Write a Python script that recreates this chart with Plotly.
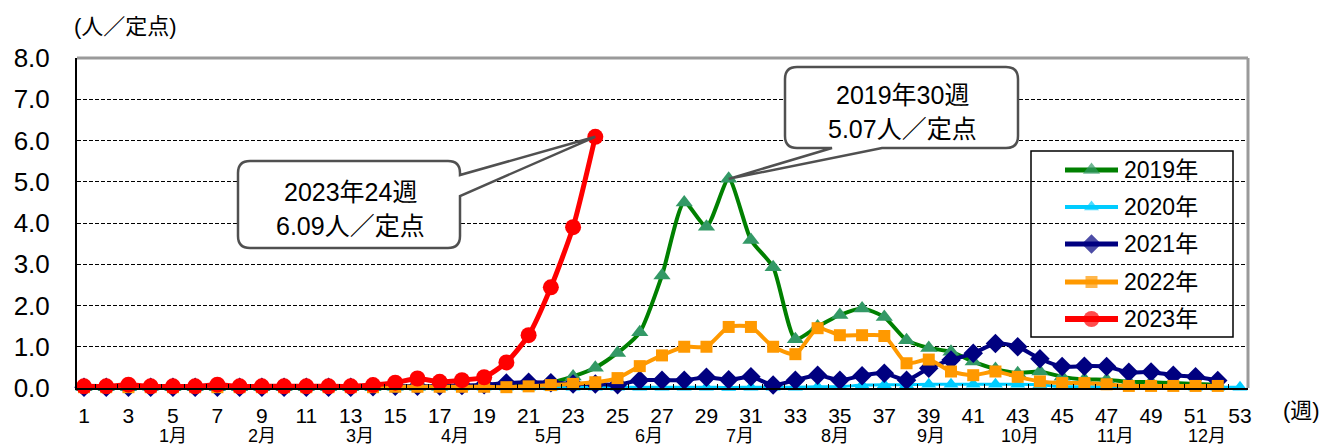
import plotly.graph_objects as go

# ---- weekly reports per sentinel site ----
weeks = list(range(1, 54))

cases_2019 = [0.02, 0.02, 0.02, 0.03, 0.02, 0.02, 0.02, 0.02, 0.02, 0.02,
              0.02, 0.02, 0.02, 0.02, 0.03, 0.03, 0.03, 0.04, 0.05, 0.06,
              0.08, 0.13, 0.28, 0.49, 0.85, 1.35, 2.73, 4.50, 3.91, 5.07,
              3.59, 2.93, 1.18, 1.49, 1.77, 1.93, 1.72, 1.16, 0.97, 0.88,
              0.64, 0.46, 0.36, 0.40, 0.27, 0.21, 0.20, 0.15, 0.14, 0.12,
              0.10, 0.08]
cases_2020 = [0.02, 0.02, 0.02, 0.02, 0.02, 0.02, 0.02, 0.02, 0.02, 0.02,
              0.02, 0.02, 0.02, 0.02, 0.02, 0.02, 0.02, 0.02, 0.02, 0.02,
              0.02, 0.02, 0.02, 0.02, 0.02, 0.02, 0.02, 0.02, 0.02, 0.01,
              0.02, 0.02, 0.02, 0.03, 0.03, 0.07, 0.08, 0.08, 0.09, 0.09,
              0.09, 0.09, 0.09, 0.08, 0.03, 0.03, 0.03, 0.03, 0.03, 0.03,
              0.02, 0.02, 0.02]
cases_2021 = [0.02, 0.02, 0.02, 0.02, 0.02, 0.02, 0.02, 0.02, 0.02, 0.02,
              0.02, 0.02, 0.02, 0.03, 0.04, 0.04, 0.05, 0.06, 0.08, 0.12,
              0.14, 0.13, 0.10, 0.10, 0.08, 0.19, 0.19, 0.19, 0.26, 0.20,
              0.27, 0.07, 0.19, 0.31, 0.19, 0.30, 0.36, 0.19, 0.48, 0.68,
              0.84, 1.08, 1.00, 0.71, 0.52, 0.53, 0.52, 0.38, 0.39, 0.31,
              0.27, 0.18]
cases_2022 = [0.02, 0.02, 0.02, 0.02, 0.02, 0.02, 0.02, 0.02, 0.02, 0.02,
              0.02, 0.02, 0.02, 0.02, 0.03, 0.03, 0.03, 0.03, 0.03, 0.02,
              0.04, 0.07, 0.10, 0.14, 0.24, 0.53, 0.79, 1.00, 1.00, 1.48,
              1.48, 1.00, 0.82, 1.45, 1.28, 1.28, 1.26, 0.60, 0.69, 0.40,
              0.31, 0.40, 0.27, 0.16, 0.12, 0.12, 0.09, 0.05, 0.05, 0.05,
              0.05, 0.05]
cases_2023 = [0.04, 0.04, 0.08, 0.04, 0.04, 0.04, 0.08, 0.04, 0.04, 0.04,
              0.04, 0.04, 0.04, 0.07, 0.13, 0.23, 0.15, 0.19, 0.26, 0.62,
              1.28, 2.44, 3.90, 6.09]

year_labels = ["2019年", "2020年", "2021年", "2022年", "2023年"]
week_ticks = list(range(1, 54, 2))
y_ticks = [0, 1, 2, 3, 4, 5, 6, 7, 8]
month_labels = ["1月", "2月", "3月", "4月", "5月", "6月",
                "7月", "8月", "9月", "10月", "11月", "12月"]
month_label_pos = [5.0, 9.0, 13.4, 17.7, 21.9, 26.4,
                   30.5, 34.8, 39.1, 43.1, 47.4, 51.5]

# ---- canvas geometry ----
W, H = 1323, 448
PL, PR, PT, PB = 77, 1248, 58, 388          # plot area edges (px)
X_LO, X_HI = 0.685, 53.36
Y_LO, Y_HI = 0.0, 8.0

FONT = "Arial, 'Liberation Sans', 'Noto Sans CJK JP', sans-serif"


def paper_x(px):
    return (px - PL) / (PR - PL)


def paper_y(py):
    return (PB - py) / (PB - PT)


def data_x(px):
    return X_LO + (px - PL) / (PR - PL) * (X_HI - X_LO)


def data_y(py):
    return Y_HI - (py - PT) / (PB - PT) * (Y_HI - Y_LO)


styles = [
    dict(line="#008000", marker="#339966", symbol="triangle-up", size=15, width=4),
    dict(line="#00CCFF", marker="#00CCFF", symbol="triangle-up", size=13, width=3),
    dict(line="#000080", marker="#000080", symbol="diamond", size=15, width=4),
    dict(line="#FF9900", marker="#FF9900", symbol="square", size=12, width=4),
    dict(line="#FF0000", marker="#FF0000", symbol="circle", size=16, width=5),
]
series = [
    (weeks[:52], cases_2019),
    (weeks[:53], cases_2020),
    (weeks[:52], cases_2021),
    (weeks[:52], cases_2022),
    (weeks[:24], cases_2023),
]

fig = go.Figure()

for name, (xs, ys), st in zip(year_labels, series, styles):
    fig.add_trace(go.Scatter(
        x=xs, y=ys, name=name, mode="lines+markers",
        line=dict(color=st["line"], width=st["width"], shape="spline", smoothing=0.6),
        marker=dict(color=st["marker"], symbol=st["symbol"], size=st["size"],
                    line=dict(width=0)),
        cliponaxis=False, showlegend=False, hoverinfo="x+y+name",
    ))

# ---- legend box (samples drawn on an overlay axis in 0..1 plot units) ----
leg_rows = [170, 207, 244, 282, 319]
leg_x0, leg_x1 = 1065, 1118
shapes = []
annotations = []
shapes.append(dict(type="rect", xref="paper", yref="paper",
                   x0=paper_x(1031), x1=paper_x(1233),
                   y0=paper_y(337), y1=paper_y(151),
                   line=dict(color="black", width=1.5), fillcolor="white",
                   layer="between"))
for name, st, ry in zip(year_labels, styles, leg_rows):
    fig.add_trace(go.Scatter(
        x=[paper_x(leg_x0), paper_x((leg_x0 + leg_x1) / 2), paper_x(leg_x1)],
        y=[paper_y(ry)] * 3, xaxis="x2", yaxis="y2", mode="lines+markers",
        line=dict(color=st["line"], width=st["width"] + 1),
        marker=dict(color=st["marker"], symbol=st["symbol"],
                    size=[0, st["size"], 0], line=dict(width=0)),
        cliponaxis=False, showlegend=False, hoverinfo="skip",
    ))
    annotations.append(dict(xref="paper", yref="paper", x=paper_x(1122), y=paper_y(ry),
                            xanchor="left", yanchor="middle", text=name, showarrow=False,
                            font=dict(family=FONT, size=23, color="black")))


# ---- callouts ----
def callout(left, right, top, bottom, r, tip, base, side):
    """Rounded box (pixel edges) with a pointer to a data point."""
    L, R_, T, B = data_x(left), data_x(right), data_y(top), data_y(bottom)
    rx = data_x(left + r) - L
    ry = T - data_y(top + r)
    tx, ty = tip
    p = [f"M{L + rx},{T}", f"L{R_ - rx},{T}", f"Q{R_},{T} {R_},{T - ry}"]
    if side == "right":
        b1, b2 = data_y(base[0]), data_y(base[1])
        p += [f"L{R_},{b1}", f"L{tx},{ty}", f"L{R_},{b2}"]
    p += [f"L{R_},{B + ry}", f"Q{R_},{B} {R_ - rx},{B}"]
    if side == "bottom":
        b1, b2 = data_x(base[1]), data_x(base[0])
        p += [f"L{b1},{B}", f"L{tx},{ty}", f"L{b2},{B}"]
    p += [f"L{L + rx},{B}", f"Q{L},{B} {L},{B + ry}",
          f"L{L},{T - ry}", f"Q{L},{T} {L + rx},{T}", "Z"]
    return dict(type="path", xref="x", yref="y", path=" ".join(p),
                fillcolor="white", line=dict(color="#505050", width=2.5),
                layer="above")


peak23_v = max(cases_2023)
peak23_w = weeks[cases_2023.index(peak23_v)]
peak19_v = max(cases_2019)
peak19_w = weeks[cases_2019.index(peak19_v)]

shapes.append(callout(238, 460, 161, 248, 12, (peak23_w, peak23_v), (175, 196), "right"))
shapes.append(callout(785, 1018, 67, 148, 12, (peak19_w, peak19_v), (832, 882), "bottom"))

for cx, cy1, cy2, yr, wk, v in [(350, 192, 226, 2023, peak23_w, peak23_v),
                                (902, 95, 129, 2019, peak19_w, peak19_v)]:
    annotations.append(dict(xref="x", yref="y", x=data_x(cx), y=data_y(cy1),
                            text=f"{yr}年{wk}週", showarrow=False,
                            font=dict(family=FONT, size=25, color="black")))
    annotations.append(dict(xref="x", yref="y", x=data_x(cx), y=data_y(cy2),
                            text=f"{v:.2f}人／定点", showarrow=False,
                            font=dict(family=FONT, size=25, color="black")))

# month labels under the week numbers
for m, pos in zip(month_labels, month_label_pos):
    annotations.append(dict(xref="x", yref="paper", x=pos, y=0, yanchor="middle",
                            xanchor="center", yshift=-(436 - PB), text=m,
                            showarrow=False,
                            font=dict(family=FONT, size=18, color="black")))

# axis captions
annotations.append(dict(xref="paper", yref="paper", x=paper_x(125), y=1,
                        yshift=PT - 26, xanchor="center", yanchor="middle",
                        text="(人／定点)", showarrow=False,
                        font=dict(family=FONT, size=22, color="black")))
annotations.append(dict(xref="paper", yref="paper", x=paper_x(1301), y=0,
                        yshift=-(410 - PB), xanchor="center", yanchor="middle",
                        text="(週)", showarrow=False,
                        font=dict(family=FONT, size=22, color="black")))

# grey frame on top and right
shapes.append(dict(type="line", xref="paper", yref="paper", x0=0, x1=1, y0=1, y1=1,
                   line=dict(color="#9a9a9a", width=3), layer="above"))
shapes.append(dict(type="line", xref="paper", yref="paper", x0=1, x1=1, y0=0, y1=1,
                   line=dict(color="#9a9a9a", width=3), layer="above"))

fig.update_layout(
    width=W, height=H,
    margin=dict(l=PL, r=W - PR, t=PT, b=H - PB, pad=0),
    paper_bgcolor="white", plot_bgcolor="white",
    font=dict(family=FONT, color="black"),
    showlegend=False,
    shapes=shapes, annotations=annotations,
    xaxis=dict(range=[X_LO, X_HI], tickmode="array", tickvals=week_ticks,
               ticktext=[str(w) for w in week_ticks], ticks="",
               tickfont=dict(family=FONT, size=21, color="black"),
               ticklabelstandoff=8,
               showgrid=False, zeroline=False,
               showline=True, linecolor="black", linewidth=2,
               minor=dict(ticks="inside", tick0=0.5, dtick=1, ticklen=4,
                          tickcolor="black", showgrid=False)),
    yaxis=dict(range=[Y_LO, Y_HI], tickmode="array", tickvals=y_ticks,
               ticktext=[f"{v:.1f}" for v in y_ticks], ticks="",
               tickfont=dict(family=FONT, size=26, color="black"),
               ticklabelstandoff=20,
               showgrid=True, gridcolor="black", gridwidth=1, griddash="4px,2px",
               zeroline=False, showline=True, linecolor="black", linewidth=2),
    xaxis2=dict(range=[0, 1], overlaying="x", visible=False, fixedrange=True),
    yaxis2=dict(range=[0, 1], overlaying="y", visible=False, fixedrange=True),
)

fig.write_html("out.html")
